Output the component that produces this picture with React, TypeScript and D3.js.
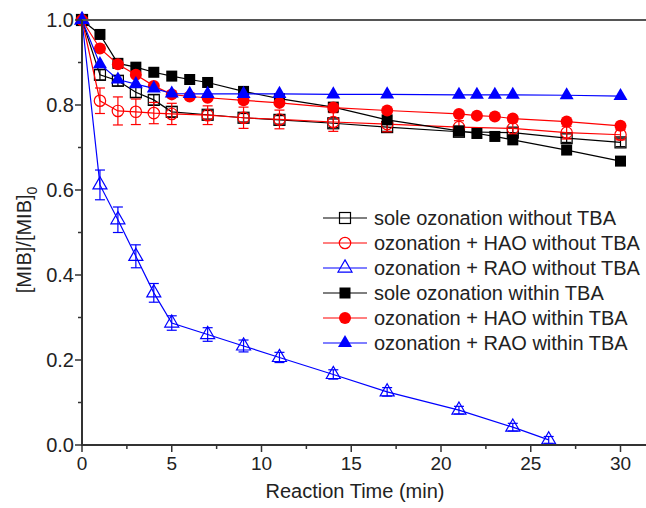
import React from "react";
import * as d3 from "d3";

const tOpen = [0, 1, 2, 3, 4, 5, 7, 9, 11, 14, 17, 21, 24, 27, 30];
const soleNo = [1, 0.871, 0.857, 0.83, 0.812, 0.784, 0.777, 0.77, 0.765, 0.757, 0.748, 0.737, 0.735, 0.722, 0.712];
const soleNoErr = [0, 0.012, 0.012, 0.012, 0.012, 0.012, 0.01, 0.01, 0.01, 0.01, 0.01, 0.01, 0.01, 0.01, 0.01];
const haoNo = [1, 0.81, 0.786, 0.784, 0.781, 0.779, 0.776, 0.77, 0.766, 0.76, 0.755, 0.748, 0.745, 0.735, 0.73];
const haoNoErr = [0, 0.03, 0.033, 0.03, 0.025, 0.025, 0.022, 0.025, 0.022, 0.022, 0.018, 0.015, 0.015, 0.015, 0.012];
const tRao = [0, 1, 2, 3, 4, 5, 7, 9, 11, 14, 17, 21, 24, 26];
const raoNo = [1, 0.612, 0.53, 0.444, 0.358, 0.287, 0.26, 0.233, 0.206, 0.166, 0.125, 0.082, 0.042, 0.012];
const raoNoErr = [0, 0.035, 0.03, 0.027, 0.022, 0.017, 0.016, 0.014, 0.012, 0.011, 0.01, 0.009, 0.009, 0.008];
const tWith = [0, 1, 2, 3, 4, 5, 6, 7, 9, 11, 14, 17, 21, 22, 23, 24, 27, 30];
const soleWith = [1, 0.966, 0.898, 0.889, 0.877, 0.868, 0.86, 0.853, 0.832, 0.815, 0.795, 0.765, 0.739, 0.733, 0.726, 0.718, 0.694, 0.668];
const haoWith = [1, 0.933, 0.896, 0.871, 0.845, 0.825, 0.82, 0.817, 0.811, 0.805, 0.794, 0.787, 0.779, 0.775, 0.773, 0.768, 0.761, 0.751];
const raoWith = [1, 0.896, 0.86, 0.849, 0.839, 0.827, 0.826, 0.826, 0.826, 0.826, 0.825, 0.825, 0.824, 0.824, 0.824, 0.824, 0.823, 0.821];

const legendLabels = [
  "sole ozonation without TBA",
  "ozonation + HAO without TBA",
  "ozonation + RAO without TBA",
  "sole ozonation within TBA",
  "ozonation + HAO within TBA",
  "ozonation + RAO within TBA",
];
const xTicks = [0, 5, 10, 15, 20, 25, 30];
const yTicks = [0, 0.2, 0.4, 0.6, 0.8, 1.0];

const W = 646, H = 508;
const L = 82, R = 646, T = 20, B = 445;
const FONT = "'Liberation Sans', Arial, sans-serif";

type Shape = "square" | "circle" | "triangle";

function Marker({ shape, x, y, color, filled }: { shape: Shape; x: number; y: number; color: string; filled: boolean }) {
  const fill = filled ? color : "none";
  const sw = filled ? 0 : 1.2;
  if (shape === "square") {
    const s = 11;
    return <rect x={x - s / 2} y={y - s / 2} width={s} height={s} fill={fill} stroke={color} strokeWidth={sw} />;
  }
  if (shape === "circle") {
    return <circle cx={x} cy={y} r={filled ? 6 : 5.7} fill={fill} stroke={color} strokeWidth={sw} />;
  }
  const s = 14;
  const h = (s * Math.sqrt(3)) / 2;
  const pts = [
    [x, y - (2 * h) / 3],
    [x + s / 2, y + h / 3],
    [x - s / 2, y + h / 3],
  ];
  return <polygon points={pts.map((p) => p.join(",")).join(" ")} fill={fill} stroke={color} strokeWidth={sw} />;
}

export default function App() {
  const x = d3.scaleLinear().domain([0, (R - L) / 17.95]).range([L, R]);
  const y = d3.scaleLinear().domain([0, 1]).range([B, T]);
  const line = d3.line<[number, number]>().x((d) => x(d[0])).y((d) => y(d[1]));

  const series = [
    { t: tOpen, v: soleNo, e: soleNoErr, color: "#000000", shape: "square" as Shape, filled: false },
    { t: tOpen, v: haoNo, e: haoNoErr, color: "#ff0000", shape: "circle" as Shape, filled: false },
    { t: tRao, v: raoNo, e: raoNoErr, color: "#0000ff", shape: "triangle" as Shape, filled: false },
    { t: tWith, v: soleWith, e: null, color: "#000000", shape: "square" as Shape, filled: true },
    { t: tWith, v: haoWith, e: null, color: "#ff0000", shape: "circle" as Shape, filled: true },
    { t: tWith, v: raoWith, e: null, color: "#0000ff", shape: "triangle" as Shape, filled: true },
  ];

  const xMinor = d3.range(2.5, 30, 5);
  const yMinor = d3.range(0.1, 1, 0.2);
  const axisColor = "#333";

  return (
    <svg width={W} height={H} style={{ position: "absolute", left: 0, top: 0, background: "#fff" }} fontFamily={FONT}>
      <rect x={0} y={0} width={W} height={H} fill="#fff" />
      {series.map((s, si) => (
        <g key={si}>
          <path d={line(s.t.map((t, i) => [t, s.v[i]] as [number, number])) || ""} fill="none" stroke={s.color} strokeWidth={1.2} />
          {s.e &&
            s.t.map((t, i) =>
              s.e![i] > 0 ? (
                <g key={"e" + i} stroke={s.color} strokeWidth={1.2}>
                  <line x1={x(t)} x2={x(t)} y1={y(s.v[i] - s.e![i])} y2={y(s.v[i] + s.e![i])} />
                  <line x1={x(t) - 5} x2={x(t) + 5} y1={y(s.v[i] - s.e![i])} y2={y(s.v[i] - s.e![i])} />
                  <line x1={x(t) - 5} x2={x(t) + 5} y1={y(s.v[i] + s.e![i])} y2={y(s.v[i] + s.e![i])} />
                </g>
              ) : null
            )}
          {s.t.map((t, i) => (
            <Marker key={i} shape={s.shape} x={x(t)} y={y(s.v[i])} color={s.color} filled={s.filled} />
          ))}
        </g>
      ))}
      <line x1={L} x2={R} y1={T} y2={T} stroke="#555" strokeWidth={2} />
      <line x1={L} x2={R} y1={B} y2={B} stroke={axisColor} strokeWidth={2} />
      <line x1={L} x2={L} y1={T} y2={B + 1} stroke={axisColor} strokeWidth={2} />
      {xTicks.map((t) => (
        <g key={"xt" + t}>
          <line x1={x(t)} x2={x(t)} y1={B} y2={B + 7} stroke={axisColor} strokeWidth={1.5} />
          <text x={x(t)} y={B + 25} fontSize={19} textAnchor="middle" fill="#222">{t}</text>
        </g>
      ))}
      {xMinor.map((t) => (
        <line key={"xm" + t} x1={x(t)} x2={x(t)} y1={B} y2={B + 4} stroke={axisColor} strokeWidth={1.5} />
      ))}
      {yTicks.map((v) => (
        <g key={"yt" + v}>
          <line x1={L - 7} x2={L} y1={y(v)} y2={y(v)} stroke={axisColor} strokeWidth={1.5} />
          <text x={L - 8} y={y(v) + 7} fontSize={20} textAnchor="end" fill="#222">{v.toFixed(1)}</text>
        </g>
      ))}
      {yMinor.map((v) => (
        <line key={"ym" + v} x1={L - 4} x2={L} y1={y(v)} y2={y(v)} stroke={axisColor} strokeWidth={1.5} />
      ))}
      <text x={(L + 628) / 2} y={498} fontSize={20} textAnchor="middle" fill="#222">Reaction Time (min)</text>
      <text transform={`translate(31, 240) rotate(-90)`} fontSize={20} textAnchor="middle" fill="#222">
        [MIB]/[MIB]<tspan fontSize={14} dy={6}>0</tspan>
      </text>
      {series.map((s, i) => {
        const ly = 218 + i * 25;
        return (
          <g key={"lg" + i}>
            <line x1={323} x2={367} y1={ly} y2={ly} stroke={s.color} strokeWidth={1.2} />
            <Marker shape={s.shape} x={345} y={ly} color={s.color} filled={s.filled} />
            <text x={374} y={ly + 7} fontSize={20} fill="#222">{legendLabels[i]}</text>
          </g>
        );
      })}
    </svg>
  );
}
